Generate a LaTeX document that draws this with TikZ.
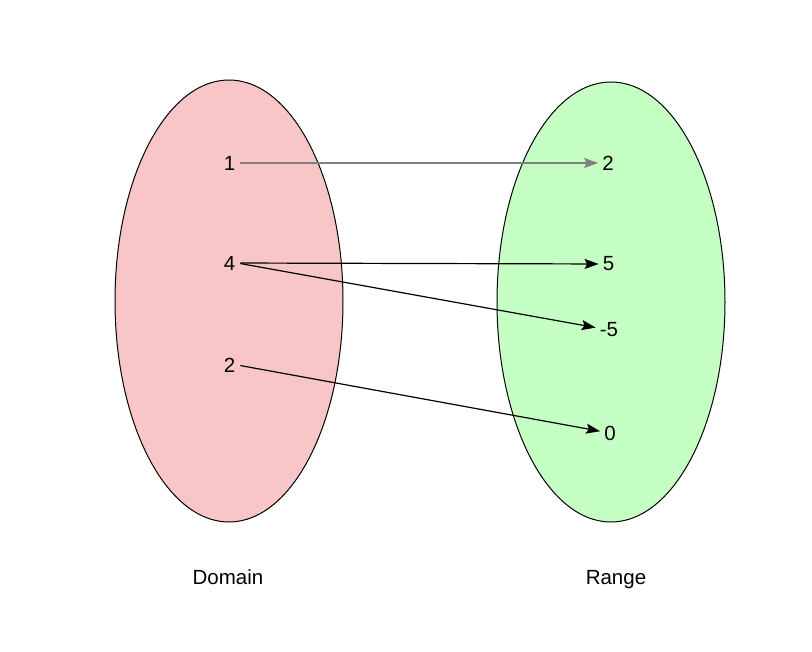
\documentclass[tikz,border=0pt]{standalone}
\usepackage{fontspec}
\setmainfont{Liberation Sans}
\usetikzlibrary{arrows.meta,positioning}
\definecolor{domfill}{RGB}{248,198,198}
\definecolor{rngfill}{RGB}{198,255,196}
\definecolor{arrgray}{RGB}{128,128,128}
\tikzset{
  val/.style={inner sep=2pt,font=\fontsize{20.5}{24}\selectfont},
  maparrow/.style={-{Stealth[length=14pt,width=10pt,inset=2.5pt]},line width=1.2pt,shorten <=3pt,shorten >=2pt}
}
\begin{document}
\begin{tikzpicture}[x=1pt,y=-1pt]
\useasboundingbox (0,0) rectangle (812,652);
\fill[white] (0,0) rectangle (812,652);
\draw[fill=domfill,line width=1pt] (229,301) ellipse (114 and 221);
\draw[fill=rngfill,line width=1pt] (611,302) ellipse (114 and 220);
% domain values
\node[val] (d1) at (229.5,163) {1};
\node[val] (d4) at (229.5,263) {4};
\node[val] (d2) at (229.5,365) {2};
% range values
\node[val] (r2) at (608,163) {2};
\node[val] (r5) at (608.5,264) {5};
\node[val] (rm5) at (609,330) {-5};
\node[val] (r0) at (610,433) {0};
\node[val,anchor=base] (dom) at (228,584.5) {Domain};
\node[val,anchor=base] (rng) at (616,584.5) {Range};
% mapping
\draw[maparrow,arrgray,line width=1.3pt] (d1) -- (r2);
\draw[maparrow] (d4) -- (r5);
\draw[maparrow] (d4.east) -- (rm5);
\draw[maparrow] (d2.east) -- (r0);
\end{tikzpicture}
\end{document}
